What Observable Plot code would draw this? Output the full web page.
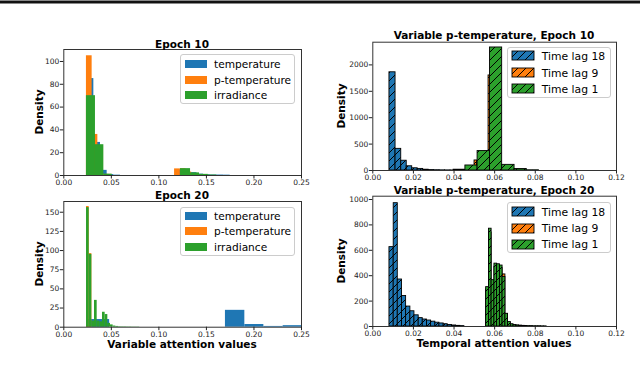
<!DOCTYPE html>
<html><head><meta charset="utf-8">
<script src="https://cdn.jsdelivr.net/npm/d3@7"></script>
<script src="https://cdn.jsdelivr.net/npm/@observablehq/plot@0.6"></script>
<style>
html,body{margin:0;padding:0;background:#fff;}
body{width:640px;height:384px;overflow:hidden;position:relative;font-family:"DejaVu Sans",sans-serif;color:#000;}
.t{position:absolute;transform:translate(-50%,-50%);white-space:nowrap;font-weight:bold;font-size:10.5px;}
.rot{transform:translate(-50%,-50%) rotate(-90deg);}
.leg{position:absolute;background:#fff;border:1px solid #ccc;border-radius:3px;box-sizing:border-box;}
.leg .lab{position:absolute;transform:translateY(-50%);white-space:nowrap;font-size:10.6px;}
.leg svg{position:absolute;}
</style></head><body>
<svg width="0" height="0" style="position:absolute;left:0;top:0">
  <defs>
    <pattern id="hatch0" patternUnits="userSpaceOnUse" width="8" height="8">
      <rect width="8" height="8" fill="#1f77b4"/>
      <path d="M-2,2 L2,-2 M0,8 L8,0 M6,10 L10,6" stroke="#000" stroke-width="1"/>
    </pattern>
    <pattern id="hatch1" patternUnits="userSpaceOnUse" width="8" height="8">
      <rect width="8" height="8" fill="#ff7f0e"/>
      <path d="M-2,2 L2,-2 M0,8 L8,0 M6,10 L10,6" stroke="#000" stroke-width="1"/>
    </pattern>
    <pattern id="hatch2" patternUnits="userSpaceOnUse" width="8" height="8">
      <rect width="8" height="8" fill="#2ca02c"/>
      <path d="M-2,2 L2,-2 M0,8 L8,0 M6,10 L10,6" stroke="#000" stroke-width="1"/>
    </pattern>
  </defs>
</svg>
<div style="position:absolute;left:0;top:0;width:640px;height:2px;background:#111;border-top:1px solid #888;border-bottom:1px solid #888;"></div>
<div id="root"></div>
<div style="position:absolute;left:19px;top:381px;font-family:'Liberation Serif',serif;font-size:28px;line-height:1;color:#444;white-space:nowrap;">Figure 3:</div>
<script>
// ---------- data ----------
const variableNames = ["temperature", "p-temperature", "irradiance"];
const lagNames = ["Time lag 18", "Time lag 9", "Time lag 1"];
const colors = ["#1f77b4", "#ff7f0e", "#2ca02c"];

// Epoch 10, variable attention (density)
const e10TempEdges = [0.0246, 0.0316, 0.0386, 0.0456, 0.0526, 0.0596, 0.1190, 0.1260, 0.1330, 0.1400, 0.1470, 0.1540, 0.1610, 0.1680, 0.1750];
const e10TempDensity = [85, 29, 4.5, 0.8, 0.3, 0, 5, 5.5, 2.5, 1.2, 0.6, 0.4, 0.4, 0.3];
const e10PTempEdges = [0.0238, 0.0298, 0.0358, 0.0418, 0.0478, 0.1165, 0.1225, 0.1285, 0.1345, 0.1405, 0.1465];
const e10PTempDensity = [105, 36, 26, 1, 0, 5.8, 6, 3, 1.5, 0.5];
const e10IrrEdges = [0.0238, 0.0333, 0.0421, 0.0509, 0.1227, 0.1333, 0.1427, 0.1520, 0.1610];
const e10IrrDensity = [70, 27, 1.2, 0, 6, 2.3, 1, 0.4];

// Epoch 20, variable attention (density)
const e20TempEdges = [0.0240, 0.0482, 0.1700, 0.1904, 0.2104, 0.2307, 0.2500];
const e20TempDensity = [10, 0, 22, 3.5, 1, 2];
const e20PTempEdges = [0.0239, 0.0267, 0.0295];
const e20PTempDensity = [157.5, 96];
const e20IrrEdges = [0.0239, 0.0267, 0.0295, 0.0323, 0.0351, 0.0379, 0.0407, 0.0435, 0.0463, 0.0491, 0.0519, 0.0547, 0.0575, 0.0603, 0.0631, 0.0659, 0.0687, 0.0715, 0.0743, 0.0771, 0.0799];
const e20IrrDensity = [156, 95, 8, 35, 8, 7, 19.5, 16.5, 5, 3, 1.5, 1, 0.6, 0.5, 0.5, 0.4, 0.4, 0.3, 0.3, 0.3];

// Epoch 10, temporal attention of p-temperature (density)
const t10Lag18Edges = [0.0082, 0.0112, 0.0140, 0.0167, 0.0194, 0.0221, 0.0248, 0.0275, 0.0302, 0.0329, 0.0356, 0.0383, 0.0410];
const t10Lag18Density = [1860, 410, 185, 80, 42, 30, 15, 8, 5, 3, 2, 1];
const t10Lag9Edges = [0.0475, 0.0501, 0.0514, 0.0540, 0.0570, 0.0584, 0.0600];
const t10Lag9Density = [80, 190, 150, 300, 1800, 1000];
const t10Lag1Edges = [0.0398, 0.0456, 0.0516, 0.0577, 0.0637, 0.0698, 0.0758, 0.0818];
const t10Lag1Density = [15, 95, 368, 2330, 107, 28, 4];

// Epoch 20, temporal attention of p-temperature (density)
const t20Lag18Edges = [0.0082, 0.0103, 0.0123, 0.0144, 0.0164, 0.0185, 0.0205, 0.0226, 0.0246, 0.0267, 0.0287, 0.0308, 0.0328, 0.0349, 0.0369, 0.0390, 0.0410, 0.0431, 0.0451];
const t20Lag18Density = [625, 971, 370, 240, 157, 120, 88, 66, 55, 47, 38, 30, 24, 18, 12, 8, 5, 3];
const t20Lag9Edges = [0.0558, 0.0572, 0.0585, 0.0599, 0.0612, 0.0626, 0.0639, 0.0653, 0.0666];
const t20Lag9Density = [290, 740, 350, 470, 470, 460, 410, 95];
const t20Lag1Edges = [0.0558, 0.0572, 0.0585, 0.0599, 0.0612, 0.0626, 0.0639, 0.0653, 0.0666, 0.0680, 0.0693, 0.0707, 0.0720, 0.0734, 0.0748, 0.0761, 0.0775, 0.0788, 0.0802, 0.0815, 0.0829, 0.0842, 0.0856];
const t20Lag1Density = [310, 770, 365, 495, 490, 480, 390, 100, 35, 18, 12, 9, 7, 5, 4, 3, 3, 2, 2, 2, 1, 1];

// ticks
const varTicksX = [0, 0.05, 0.10, 0.15, 0.20, 0.25];
const tempTicksX = [0, 0.02, 0.04, 0.06, 0.08, 0.10, 0.12];
const e10TicksY = [0, 20, 40, 60, 80, 100];
const e20TicksY = [0, 25, 50, 75, 100, 125, 150];
const t10TicksY = [0, 500, 1000, 1500, 2000];
const t20TicksY = [0, 200, 400, 600, 800, 1000];

// ---------- drawing ----------
const root = document.getElementById("root");
function bins(edges, dens) {
  return dens.map((d, i) => ({x1: edges[i], x2: edges[i + 1], y1: 0, y2: d}));
}
function el(cls, text, x, y) {
  const d = document.createElement("div");
  d.className = cls;
  d.textContent = text;
  d.style.left = x + "px";
  d.style.top = y + "px";
  document.body.appendChild(d);
  return d;
}
function panel(o) {
  const marks = [];
  o.series.forEach((s, i) => {
    marks.push(Plot.rect(s, {
      x1: "x1", x2: "x2", y1: "y1", y2: "y2",
      fill: o.hatched ? `url(#hatch${i})` : colors[i],
      stroke: o.hatched ? "#000" : "none",
      strokeWidth: 0.9
    }));
  });
  marks.push(Plot.frame({stroke: "#333", strokeWidth: 1}));
  marks.push(Plot.axisX({ticks: o.xTicks, tickFormat: d3.format(".2f"), tickSize: 3.5, tickPadding: 1, fontSize: 7.5, label: null}));
  marks.push(Plot.axisY({ticks: o.yTicks, tickFormat: d => String(d), tickSize: 3.5, tickPadding: 1, fontSize: 7.5, label: null}));
  const svg = Plot.plot({
    width: o.width, height: o.height,
    marginLeft: o.m[0], marginRight: o.m[1], marginTop: o.m[2], marginBottom: o.m[3],
    x: {domain: o.xDomain},
    y: {domain: o.yDomain},
    style: {fontFamily: "DejaVu Sans", color: "#222", background: "transparent", overflow: "visible"},
    marks
  });
  svg.style.position = "absolute";
  svg.style.left = o.left + "px";
  svg.style.top = o.top + "px";
  root.appendChild(svg);
}
function legend(x, y, w, h, names, rows, hatched) {
  const box = document.createElement("div");
  box.className = "leg";
  Object.assign(box.style, {left: x + "px", top: y + "px", width: w + "px", height: h + "px"});
  names.forEach((n, i) => {
    const sw = 22, sh = hatched ? 9 : 8;
    const s = document.createElementNS("http://www.w3.org/2000/svg", "svg");
    s.setAttribute("width", sw + 2); s.setAttribute("height", sh + 2);
    s.style.left = (hatched ? 3.5 : 2.5) + "px";
    s.style.top = (rows[i] - sh / 2 - 1) + "px";
    const r = document.createElementNS("http://www.w3.org/2000/svg", "rect");
    r.setAttribute("x", 1); r.setAttribute("y", 1); r.setAttribute("width", sw); r.setAttribute("height", sh);
    r.setAttribute("fill", hatched ? `url(#hatch${i})` : colors[i]);
    if (hatched) { r.setAttribute("stroke", "#000"); r.setAttribute("stroke-width", "0.9"); }
    s.appendChild(r);
    box.appendChild(s);
    const l = document.createElement("div");
    l.className = "lab";
    l.textContent = n;
    l.style.left = (hatched ? 34 : 33) + "px";
    l.style.top = rows[i] + "px";
    if (hatched) l.style.fontSize = "10.8px";
    box.appendChild(l);
  });
  document.body.appendChild(box);
}

panel({left: 0, top: 40, width: 320, height: 150, m: [63.3, 19, 9, 15],
  xDomain: [0, 0.25], yDomain: [0, 110.5], xTicks: varTicksX, yTicks: e10TicksY,
  series: [bins(e10TempEdges, e10TempDensity), bins(e10PTempEdges, e10PTempDensity), bins(e10IrrEdges, e10IrrDensity)]});
panel({left: 0, top: 190, width: 320, height: 155, m: [63.3, 19, 11, 18.3],
  xDomain: [0, 0.25], yDomain: [0, 164], xTicks: varTicksX, yTicks: e20TicksY,
  series: [bins(e20TempEdges, e20TempDensity), bins(e20PTempEdges, e20PTempDensity), bins(e20IrrEdges, e20IrrDensity)]});
panel({left: 320, top: 30, width: 320, height: 160, m: [52.3, 24, 11.7, 20], hatched: true,
  xDomain: [0, 0.12], yDomain: [0, 2430], xTicks: tempTicksX, yTicks: t10TicksY,
  series: [bins(t10Lag18Edges, t10Lag18Density), bins(t10Lag9Edges, t10Lag9Density), bins(t10Lag1Edges, t10Lag1Density)]});
panel({left: 320, top: 185, width: 320, height: 160, m: [52.3, 24, 10.7, 19], hatched: true,
  xDomain: [0, 0.12], yDomain: [0, 1026], xTicks: tempTicksX, yTicks: t20TicksY,
  series: [bins(t20Lag18Edges, t20Lag18Density), bins(t20Lag9Edges, t20Lag9Density), bins(t20Lag1Edges, t20Lag1Density)]});

// titles and axis labels
el("t", "Epoch 10", 182, 43.5);
el("t", "Epoch 20", 182, 195);
el("t", "Variable p-temperature, Epoch 10", 494, 34.5);
el("t", "Variable p-temperature, Epoch 20", 494, 190);
el("t", "Variable attention values", 182, 344);
el("t", "Temporal attention values", 494, 343);
el("t rot", "Density", 39, 112);
el("t rot", "Density", 39, 264);
el("t rot", "Density", 341, 106);
el("t rot", "Density", 341, 261);

// legends
legend(180, 54, 115, 50, variableNames, [8.7, 25, 40.3], false);
legend(180, 206.7, 115, 49.3, variableNames, [8.3, 23.5, 39.3], false);
legend(506.7, 46.7, 104.3, 51, lagNames, [8.3, 25, 41], true);
legend(506.7, 202.3, 104.3, 51, lagNames, [8.7, 25, 41], true);
</script>
</body></html>
